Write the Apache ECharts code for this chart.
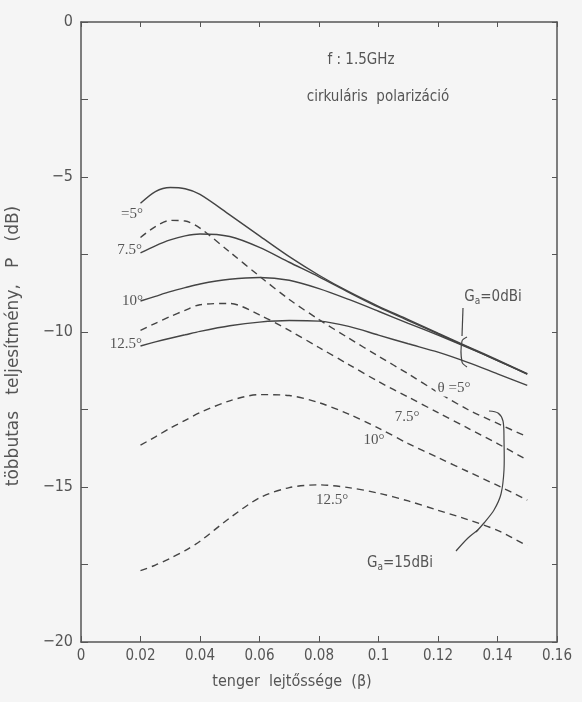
<!DOCTYPE html>
<html>
<head>
<meta charset="utf-8">
<script src="https://cdn.jsdelivr.net/npm/echarts@6/dist/echarts.min.js"></script>
<style>
  html, body { margin: 0; padding: 0; background: #f5f5f5; }
  #chart { width: 582px; height: 702px; }
</style>
</head>
<body>
<div id="chart"></div>
<script>
// sea slope (beta) sample points
var beta = [0.02, 0.025, 0.03, 0.035, 0.04, 0.05, 0.06, 0.07, 0.08, 0.09, 0.10, 0.11, 0.12, 0.13, 0.14, 0.15];

// Ga = 0 dBi (solid), elevation 5, 7.5, 10, 12.5 deg
var solid5   = [-5.85, -5.47, -5.34, -5.38, -5.56, -6.22, -6.90, -7.57, -8.17, -8.70, -9.17, -9.60, -10.04, -10.47, -10.90, -11.34];
var solid75  = [-7.45, -7.22, -7.03, -6.90, -6.84, -6.92, -7.27, -7.75, -8.22, -8.72, -9.20, -9.63, -10.06, -10.49, -10.92, -11.36];
var solid10  = [-9.00, -8.85, -8.70, -8.57, -8.45, -8.30, -8.24, -8.33, -8.60, -8.95, -9.33, -9.72, -10.10, -10.50, -10.92, -11.36];
var solid125 = [-10.45, -10.32, -10.20, -10.09, -9.98, -9.80, -9.68, -9.63, -9.65, -9.82, -10.10, -10.38, -10.65, -10.98, -11.35, -11.72];

// Ga = 15 dBi (dashed)
var dash5   = [-6.95, -6.60, -6.40, -6.42, -6.65, -7.42, -8.20, -8.95, -9.60, -10.20, -10.78, -11.35, -11.95, -12.50, -12.95, -13.38];
var dash75  = [-9.95, -9.72, -9.50, -9.30, -9.12, -9.08, -9.45, -9.95, -10.50, -11.05, -11.60, -12.10, -12.60, -13.10, -13.60, -14.13];
var dash10  = [-13.65, -13.38, -13.10, -12.85, -12.60, -12.22, -12.02, -12.05, -12.28, -12.65, -13.10, -13.60, -14.05, -14.50, -14.95, -15.42];
var dash125 = [-17.70, -17.52, -17.30, -17.05, -16.75, -16.00, -15.35, -15.02, -14.93, -15.02, -15.20, -15.45, -15.75, -16.05, -16.40, -16.90];

var xTickLabels = ['0', '0.02', '0.04', '0.06', '0.08', '0.1', '0.12', '0.14', '0.16'];
var yTickLabels = ['\u221220', '\u221215', '\u221210', '\u22125', '0'];

var ink = '#444';
var txt = '#555';
var bg = '#f5f5f5';
var sansFont = "'DejaVu Sans Condensed', 'DejaVu Sans', sans-serif";
var serifFont = "'Liberation Serif', 'DejaVu Serif', serif";

function pairs(ys) {
    return beta.map(function (b, i) { return [b, ys[i]]; });
}

function curve(name, ys, dashed) {
    return {
        name: name,
        type: 'line',
        data: pairs(ys),
        smooth: 0.3,
        symbol: 'none',
        silent: true,
        lineStyle: {
            color: ink,
            width: 1.4,
            type: dashed ? [7, 5] : 'solid'
        }
    };
}

var frameLine = { show: true, onZero: false, lineStyle: { color: '#555', width: 1.5 } };

var myChart = echarts.init(document.getElementById('chart'));

var option = {
    backgroundColor: bg,
    animation: false,
    grid: {
        left: 81,
        right: 25,
        top: 22,
        bottom: 60,
        containLabel: false,
        outerBoundsMode: 'none'
    },
    xAxis: [{
        type: 'value',
        position: 'bottom',
        min: 0,
        max: 0.16,
        interval: 0.02,
        axisLine: frameLine,
        axisTick: { show: true, inside: true, length: 6, lineStyle: { color: '#555' } },
        splitLine: { show: false },
        axisLabel: {
            color: txt,
            fontSize: 15,
            fontFamily: sansFont,
            margin: 7,
            formatter: function (v) { return xTickLabels[Math.round(v / 0.02)]; }
        }
    }, {
        type: 'value',
        position: 'top',
        min: 0,
        max: 0.16,
        interval: 0.02,
        axisLine: frameLine,
        axisTick: { show: true, inside: true, length: 5, lineStyle: { color: '#555' } },
        splitLine: { show: false },
        axisLabel: { show: false }
    }],
    yAxis: [{
        type: 'value',
        position: 'left',
        min: -20,
        max: 0,
        interval: 2.5,
        axisLine: frameLine,
        axisTick: { show: true, inside: true, length: 7, lineStyle: { color: '#555' } },
        splitLine: { show: false },
        axisLabel: {
            color: txt,
            fontSize: 16,
            fontFamily: sansFont,
            margin: 8,
            formatter: function (v) {
                if (Math.abs(v % 5) > 0.01) return '';
                return yTickLabels[Math.round((v + 20) / 5)];
            }
        }
    }, {
        type: 'value',
        position: 'right',
        min: -20,
        max: 0,
        interval: 2.5,
        axisLine: frameLine,
        axisTick: { show: true, inside: true, length: 5, lineStyle: { color: '#555' } },
        splitLine: { show: false },
        axisLabel: { show: false }
    }],
    series: [
        curve('Ga=0 5', solid5, false),
        curve('Ga=0 7.5', solid75, false),
        curve('Ga=0 10', solid10, false),
        curve('Ga=0 12.5', solid125, false),
        curve('Ga=15 5', dash5, true),
        curve('Ga=15 7.5', dash75, true),
        curve('Ga=15 10', dash10, true),
        curve('Ga=15 12.5', dash125, true)
    ]
};

myChart.setOption(option);

// annotations
function label(x, y, text, font, align, extra) {
    var el = {
        type: 'text',
        x: x,
        y: y,
        silent: true,
        z: 100,
        style: {
            text: text,
            fill: txt,
            font: font,
            textAlign: align || 'center',
            textVerticalAlign: 'middle'
        }
    };
    if (extra) {
        for (var k in extra) el.style[k] = extra[k];
    }
    return el;
}

function gaLabel(x, y, value) {
    return label(x, y, '{g|G}{s|a}{g|=' + value + 'dBi}', '', 'center', {
        rich: {
            g: { fontSize: 15, fontFamily: sansFont, fill: txt },
            s: { fontSize: 10, fontFamily: sansFont, fill: txt, padding: [8, 0, 0, 0] }
        }
    });
}

function stroke(points) {
    return {
        type: 'polyline',
        silent: true,
        z: 100,
        shape: { points: points, smooth: 0.3 },
        style: { stroke: ink, fill: null, lineWidth: 1.2 }
    };
}

var serif15 = '15px ' + serifFont;
var sans15 = '15px ' + sansFont;

myChart.setOption({
    graphic: [
        label(361, 60, 'f : 1.5GHz', sans15),
        label(378, 97, 'cirkul\u00e1ris  polariz\u00e1ci\u00f3', sans15),

        label(143, 214, '=5\u00b0', serif15, 'right'),
        label(142, 250, '7.5\u00b0', serif15, 'right'),
        label(143, 301, '10\u00b0', serif15, 'right'),
        label(142, 344, '12.5\u00b0', serif15, 'right'),

        label(454, 388, '\u03b8 =5\u00b0', serif15, 'center', { backgroundColor: bg, padding: [1, 2] }),
        label(407, 417, '7.5\u00b0', serif15),
        label(374, 440, '10\u00b0', serif15),
        label(332, 500, '12.5\u00b0', serif15),

        gaLabel(493, 297, '0'),
        stroke([[463, 308], [462, 336]]),
        stroke([[467, 337], [462, 341], [462, 362], [467, 367]]),

        gaLabel(400, 563, '15'),
        stroke([[489, 411], [498, 413], [503, 421], [504, 440], [504, 470], [501, 494], [494, 510], [484, 523], [476, 532]]),
        stroke([[478, 530], [468, 538], [456, 551]]),

        label(292, 682, 'tenger  lejt\u0151ss\u00e9ge  (\u03b2)', '16px ' + sansFont),
        {
            type: 'text',
            x: 14,
            y: 346,
            rotation: Math.PI / 2,
            silent: true,
            style: {
                text: 't\u00f6bbutas   teljes\u00edtm\u00e9ny,   P   (dB)',
                fill: txt,
                font: "17px 'DejaVu Sans', sans-serif",
                textAlign: 'center',
                textVerticalAlign: 'middle'
            }
        }
    ]
});
</script>
</body>
</html>
